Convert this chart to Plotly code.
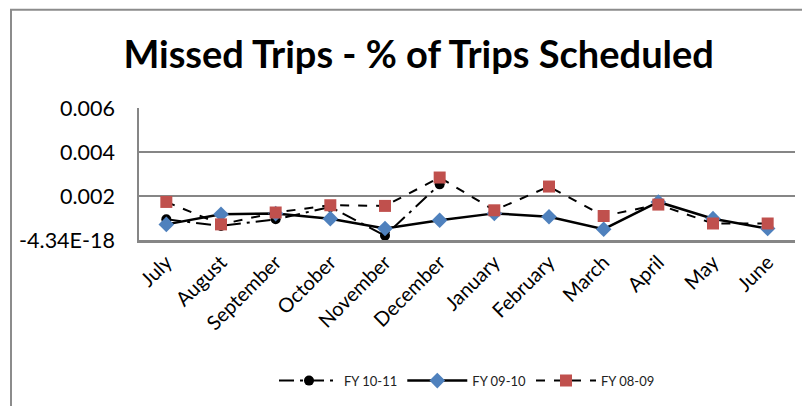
import plotly.graph_objects as go

months = ["July", "August", "September", "October", "November", "December",
          "January", "February", "March", "April", "May", "June"]
fy_10_11 = [0.00094, 0.00064, 0.00094, 0.00150, 0.00020, 0.00253]
fy_09_10 = [0.00071, 0.00117, 0.00120, 0.00097, 0.00052, 0.00090,
            0.00121, 0.00106, 0.00049, 0.00173, 0.00097, 0.00052]
fy_08_09 = [0.00173, 0.00071, 0.00125, 0.00158, 0.00155, 0.00284,
            0.00135, 0.00243, 0.00109, 0.00161, 0.00075, 0.00075]
y_tickvals = [-4.34e-18, 0.002, 0.004, 0.006]
y_ticktext = ["-4.34E-18", "0.002", "0.004", "0.006"]

FONT = "Lato"
W, H = 802, 398
fig = go.Figure()
fig.add_trace(go.Scatter(
    x=months[:len(fy_10_11)], y=fy_10_11, name="FY 10-11", mode="lines+markers",
    line=dict(color="black", width=2, dash="longdashdot"),
    marker=dict(symbol="circle", size=10, color="black")))
fig.add_trace(go.Scatter(
    x=months, y=fy_09_10, name="FY 09-10", mode="lines+markers",
    line=dict(color="black", width=2.5),
    marker=dict(symbol="diamond", size=12, color="#4F81BD")))
fig.add_trace(go.Scatter(
    x=months, y=fy_08_09, name="FY 08-09", mode="lines+markers",
    line=dict(color="black", width=2, dash="dash"),
    marker=dict(symbol="square", size=12, color="#C0504D")))

fig.update_layout(
    width=W, height=H,
    margin=dict(l=131, r=15, t=100, b=165),
    paper_bgcolor="white", plot_bgcolor="white",
    font=dict(family=FONT, color="black"),
    title=dict(text="<b>Missed Trips - % of Trips Scheduled</b>",
               x=0.512, xanchor="center", y=0.882, yanchor="middle",
               font=dict(family=FONT, size=38, color="black")),
    legend=dict(orientation="h", x=0.5, xanchor="center", y=-1.05, yanchor="middle",
                font=dict(family=FONT, size=13, color="#222222"),
                itemwidth=60, bgcolor="rgba(0,0,0,0)"),
    showlegend=True,
)
fig.update_xaxes(
    type="category", categoryorder="array", categoryarray=months,
    range=[-0.5, 11.5], showgrid=False, tickangle=-45,
    tickfont=dict(family=FONT, size=20, color="black"),
    showline=True, linecolor="#868686", linewidth=2.5, ticks="", zeroline=False)
fig.update_yaxes(
    range=[-4.34e-18, 0.006], tickvals=y_tickvals, ticktext=y_ticktext,
    showgrid=True, gridcolor="#868686", gridwidth=1.5,
    showline=True, linecolor="#868686", linewidth=1.5, zeroline=False,
    tickfont=dict(family=FONT, size=21.5, color="black"), ticks="",
    ticklabelstandoff=18)

fig.add_shape(type="rect", xref="paper", yref="paper",
              x0=(3 - 131) / 656, x1=1.5, y0=-2.5, y1=(233 - 1) / 133,
              line=dict(color="#8C8C8C", width=2), layer="below")

fig.write_html("out.html")
